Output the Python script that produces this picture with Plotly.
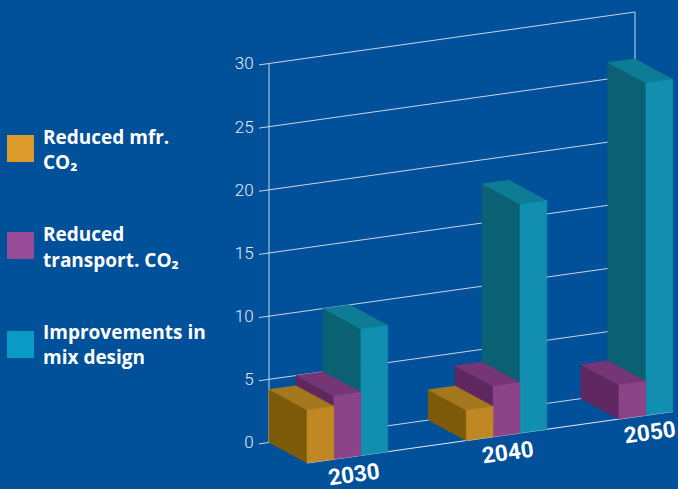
import plotly.graph_objects as go

# Chart data
years = ["2030", "2040", "2050"]
series_names = ["Reduced mfr. CO₂", "Reduced transport. CO₂", "Improvements in mix design"]
legend_lines = [["Reduced mfr.", "CO₂"], ["Reduced", "transport. CO₂"], ["Improvements in", "mix design"]]
mfr_co2 = [4.2, 2.4, 0]
transport_co2 = [5.0, 4.0, 2.7]
mix_design = [10.0, 18.1, 26.3]
tick_values = [0, 5, 10, 15, 20, 25, 30]

# Oblique view settings: the x axis is measured in canvas pixels, the y axis in chart units
WIDTH, HEIGHT = 678, 489
UNIT = 12.633                # pixels per chart unit
BASE_PX = 442.5              # canvas row of the value 0 on the back wall
WALL_X = 269                 # left end of the back wall
WALL_LEN = 366               # length of the back wall
RISE = 0.1407                # upward drift of the floor per pixel travelled to the right
DEPTH_X, DEPTH_Y = 38, 20.5  # offset from the back wall to the front edge
BAR_W = 26.9
GROUP_START = [0, 159.2, 285.0]  # left edge of each group along the floor
LABEL_CENTER = [354, 508, 650]

FACES = [
    {"front": "#BF8822", "top": "#A4781C", "side": "#7D5A0A", "swatch": "#DB9A29"},
    {"front": "#8C4489", "top": "#753675", "side": "#5F2860", "swatch": "#9A4B97"},
    {"front": "#118EB0", "top": "#0E7C95", "side": "#0B6074", "swatch": "#0A9BC4"},
]
BACKGROUND = "#00509A"
GRID = "#C9D6E6"


def project(u, near, v):
    """Map floor position u, nearness 0..1 and value v to axis coordinates."""
    x = WALL_X + u + DEPTH_X * near
    y = v + (RISE * u - DEPTH_Y * near) / UNIT
    return x, y


def polygon(points, color, name):
    xs, ys = zip(*[project(*p) for p in points])
    return go.Scatter(
        x=list(xs) + [xs[0]], y=list(ys) + [ys[0]], mode="lines", fill="toself",
        fillcolor=color, line=dict(color=color, width=0.5), name=name,
        hoverinfo="name", showlegend=False,
    )


def line(points, color, width=1):
    xs, ys = zip(*[project(*p) for p in points])
    return go.Scatter(
        x=xs, y=ys, mode="lines", line=dict(color=color, width=width),
        hoverinfo="skip", showlegend=False,
    )


fig = go.Figure()

# Back wall: gridlines with their tick stubs, plus the left and right uprights
for v in tick_values:
    fig.add_trace(line([(-10, 0, v), (WALL_LEN, 0, v)], GRID))
fig.add_trace(line([(0, 0, 0), (0, 0, 30)], GRID))
fig.add_trace(line([(WALL_LEN, 0, 0), (WALL_LEN, 0, 30)], GRID))

# Front edge of the floor
fig.add_trace(line([(0, 1, 0), (WALL_LEN, 1, 0)], "#E4EBF3"))

# Bars are painted right to left, since each one hides the side of its right-hand neighbour
series_values = [mfr_co2, transport_co2, mix_design]
for g, year in enumerate(years):
    for s in reversed(range(len(series_values))):
        v = series_values[s][g]
        if v <= 0:
            continue
        u0 = GROUP_START[g] + s * BAR_W
        u1 = u0 + BAR_W
        label = f"{series_names[s]} {year}"
        fig.add_trace(polygon([(u0, 0, 0), (u0, 1, 0), (u0, 1, v), (u0, 0, v)], FACES[s]["side"], label))
        fig.add_trace(polygon([(u0, 0, v), (u0, 1, v), (u1, 1, v), (u1, 0, v)], FACES[s]["top"], label))
        fig.add_trace(polygon([(u0, 1, 0), (u1, 1, 0), (u1, 1, v), (u0, 1, v)], FACES[s]["front"], label))

# Year labels run parallel to the front edge
annotations = []
for year, cx in zip(years, LABEL_CENTER):
    u = cx - WALL_X - DEPTH_X
    _, floor_y = project(u, 1, 0)
    annotations.append(dict(
        x=cx, y=floor_y - 17.5 / UNIT, xref="x", yref="y", text=year, showarrow=False,
        textangle=-8, font=dict(family="Roboto", size=22.5, color="white", weight="bold"),
    ))

# Hand-placed legend on the left
shapes = []
SWATCH_TOP = [135, 232, 331]
LINE_ROWS = [[137, 162], [234, 260], [332, 357]]
for i, top in enumerate(SWATCH_TOP):
    shapes.append(dict(
        type="rect", xref="paper", yref="paper", x0=7 / WIDTH, x1=34 / WIDTH,
        y0=1 - top / HEIGHT, y1=1 - (top + 27) / HEIGHT,
        fillcolor=FACES[i]["swatch"], line=dict(width=0),
    ))
    for text, row in zip(legend_lines[i], LINE_ROWS[i]):
        annotations.append(dict(
            x=41 / WIDTH, y=1 - row / HEIGHT, xref="paper", yref="paper", text=text,
            xanchor="left", yanchor="middle", showarrow=False,
            font=dict(family="Open Sans", size=19, color="white", weight="bold"),
        ))

fig.update_layout(
    width=WIDTH, height=HEIGHT, margin=dict(l=0, r=0, t=0, b=0),
    paper_bgcolor=BACKGROUND, plot_bgcolor=BACKGROUND, showlegend=False,
    shapes=shapes, annotations=annotations,
    xaxis=dict(range=[0, WIDTH], visible=False, fixedrange=True),
    yaxis=dict(
        range=[-(HEIGHT - BASE_PX) / UNIT, BASE_PX / UNIT], anchor="free", position=258 / WIDTH,
        tickvals=tick_values, showgrid=False, zeroline=False, showline=False,
        ticks="outside", ticklen=1, tickcolor="rgba(0,0,0,0)",
        tickfont=dict(family="Roboto", size=17, color="#E6ECF4", weight=300), fixedrange=True,
    ),
)

fig.write_html("out.html")
